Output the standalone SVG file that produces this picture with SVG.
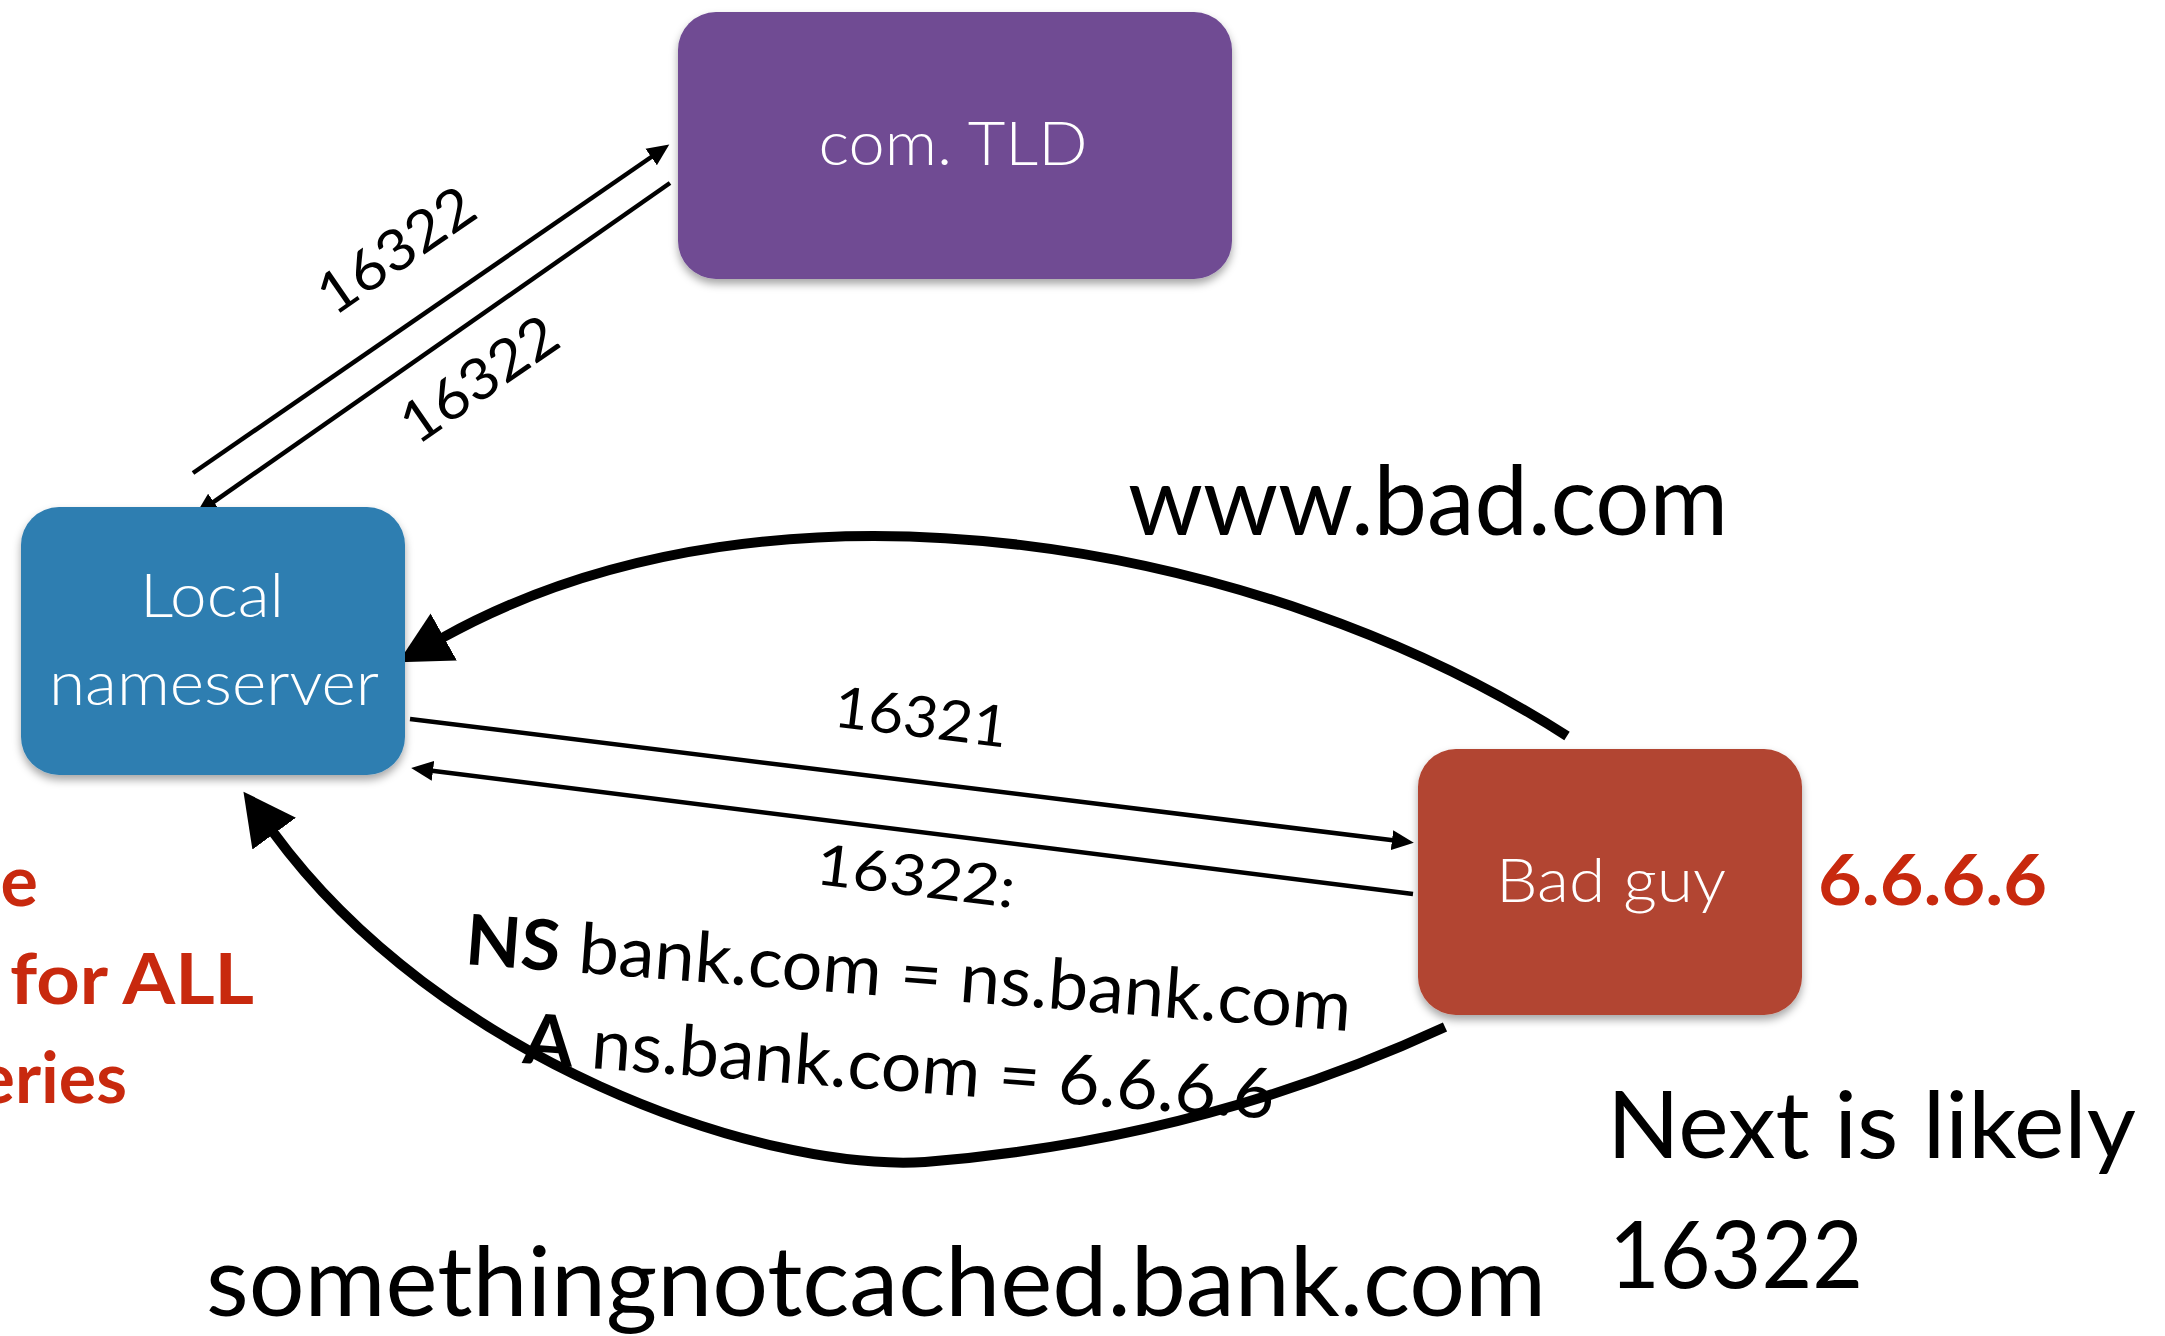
<svg xmlns="http://www.w3.org/2000/svg" width="2165" height="1336" viewBox="0 0 2165 1336">
  <defs>
    <style>
      .node-label { font-family: Lato, "Open Sans", "Liberation Sans", sans-serif; font-weight: 300; font-size: 62px; fill: #ffffff; text-anchor: middle; }
      .label { font-family: Lato, "Noto Sans", "Liberation Sans", sans-serif; font-size: 57px; fill: #000000; }
      .big { font-family: Lato, "Noto Sans", "Liberation Sans", sans-serif; font-size: 96px; fill: #000000; }
      .red { font-family: Lato, "Noto Sans", "Liberation Sans", sans-serif; font-weight: 700; font-size: 70px; fill: #c8290e; }
      .thin { fill: none; stroke: #000; stroke-width: 4.5; }
      .thick { fill: none; stroke: #000; stroke-width: 10; }
    </style>
    <filter id="shadow" x="-10%" y="-10%" width="120%" height="130%">
      <feDropShadow dx="0" dy="5" stdDeviation="4" flood-color="#000" flood-opacity="0.35"/>
    </filter>
    <marker id="head-small" markerUnits="userSpaceOnUse" viewBox="0 0 24 24" markerWidth="24" markerHeight="24" refX="1" refY="12" orient="auto">
      <path d="M0,2 L22,12 L0,22 z" fill="#000"/>
    </marker>
    <marker id="head-big" markerUnits="userSpaceOnUse" viewBox="0 0 54 56" markerWidth="54" markerHeight="56" refX="2" refY="28" orient="auto">
      <path d="M0,1 L52,28 L0,55 z" fill="#000"/>
    </marker>
  </defs>

  <rect width="2165" height="1336" fill="#ffffff"/>

  <!-- connectors -->
  <g id="connectors">
    <line class="thin" x1="193" y1="473" x2="652" y2="156.5" marker-end="url(#head-small)"/>
    <line class="thin" x1="670" y1="183" x2="213" y2="502.4" marker-end="url(#head-small)"/>
    <line class="thin" x1="410" y1="719" x2="1393" y2="840.3" marker-end="url(#head-small)"/>
    <line class="thin" x1="1413" y1="894" x2="432" y2="770.7" marker-end="url(#head-small)"/>
    <path class="thick" d="M1567,736 C1270,545 780,450 442,638" marker-end="url(#head-big)"/>
    <path class="thick" d="M1445,1027 Q1200,1140 925,1162 C760,1172 440,1060 273,832" marker-end="url(#head-big)"/>

    <!-- connector labels -->
    <g transform="translate(396,250) rotate(-34.6)">
      <text class="label" x="0" y="20" text-anchor="middle" textLength="178" lengthAdjust="spacingAndGlyphs">16322</text>
    </g>
    <g transform="translate(479,379) rotate(-34.6)">
      <text class="label" x="0" y="20" text-anchor="middle" textLength="178" lengthAdjust="spacingAndGlyphs">16322</text>
    </g>
    <g transform="translate(921,717) rotate(6.95)">
      <text class="label" x="0" y="20" text-anchor="middle" textLength="174" lengthAdjust="spacingAndGlyphs">16321</text>
    </g>
    <g transform="translate(916,876) rotate(7)">
      <text class="label" x="0" y="20" text-anchor="middle" textLength="200" lengthAdjust="spacingAndGlyphs">16322:</text>
    </g>
    <g transform="translate(464,964) rotate(4.33)">
      <text class="label" style="font-size:70px" x="0" y="0" textLength="888" lengthAdjust="spacingAndGlyphs"><tspan font-weight="700">NS</tspan> bank.com = ns.bank.com</text>
    </g>
    <g transform="translate(522,1063) rotate(4.26)">
      <text class="label" style="font-size:70px" x="0" y="0" textLength="753" lengthAdjust="spacingAndGlyphs"><tspan font-weight="700">A</tspan> ns.bank.com = 6.6.6.6</text>
    </g>
    <text class="big" x="1128" y="535" textLength="600" lengthAdjust="spacingAndGlyphs">www.bad.com</text>
  </g>

  <!-- nodes -->
  <g id="tld">
    <rect x="678" y="12" width="554" height="267" rx="38" fill="#6f4b93" filter="url(#shadow)"/>
    <text class="node-label" x="953" y="165" textLength="269" lengthAdjust="spacingAndGlyphs">com. TLD</text>
  </g>
  <g id="local-nameserver">
    <rect x="21" y="507" width="384" height="268" rx="38" fill="#2f7eb1" filter="url(#shadow)"/>
    <text class="node-label" x="212" y="617" textLength="144" lengthAdjust="spacingAndGlyphs">Local</text>
    <text class="node-label" x="214" y="705" textLength="330" lengthAdjust="spacingAndGlyphs">nameserver</text>
  </g>
  <g id="bad-guy">
    <rect x="1418" y="749" width="384" height="266" rx="38" fill="#b24431" filter="url(#shadow)"/>
    <text class="node-label" x="1611" y="902" textLength="230" lengthAdjust="spacingAndGlyphs">Bad guy</text>
  </g>

  <!-- annotations -->
  <text class="red" x="1818" y="905" textLength="229" lengthAdjust="spacingAndGlyphs">6.6.6.6</text>
  <text class="red" x="38" y="906" text-anchor="end">e</text>
  <text class="red" x="254" y="1004" text-anchor="end" textLength="244" lengthAdjust="spacingAndGlyphs">for ALL</text>
  <text class="red" x="127" y="1103" text-anchor="end">eries</text>
  <text class="big" x="206" y="1316" textLength="1340" lengthAdjust="spacingAndGlyphs">somethingnotcached.bank.com</text>
  <text class="big" style="font-size:94px" x="1607" y="1158" textLength="529" lengthAdjust="spacingAndGlyphs">Next is likely</text>
  <text class="big" style="font-size:94px" x="1609" y="1288" textLength="254" lengthAdjust="spacingAndGlyphs">16322</text>
</svg>
